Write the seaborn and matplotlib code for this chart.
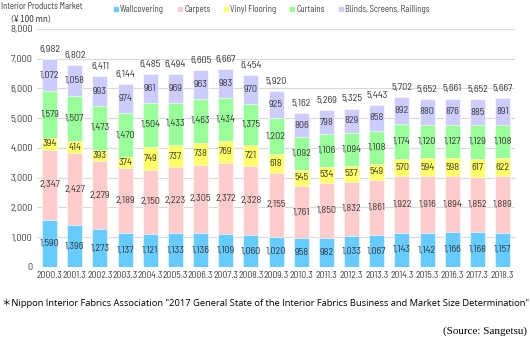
import matplotlib
matplotlib.use("Agg")
import matplotlib.pyplot as plt
from matplotlib.lines import Line2D
import seaborn as sns
import numpy as np
import pandas as pd

years = ["2000.3","2001.3","2002.3","2003.3","2004.3","2005.3","2006.3","2007.3","2008.3","2009.3",
         "2010.3","2011.3","2012.3","2013.3","2014.3","2015.3","2016.3","2017.3","2018.3"]
wallcovering = [1590,1396,1273,1137,1121,1133,1136,1109,1060,1020,958,982,1033,1067,1143,1142,1166,1168,1157]
carpets = [2347,2427,2279,2189,2150,2223,2305,2372,2328,2155,1761,1850,1832,1861,1922,1916,1894,1852,1889]
vinyl = [394,414,393,374,749,737,738,769,721,618,545,534,537,549,570,594,598,617,622]
curtains = [1579,1507,1473,1470,1504,1433,1463,1434,1375,1202,1092,1106,1094,1108,1174,1120,1127,1129,1108]
blinds = [1072,1058,993,974,961,969,963,983,970,925,806,798,829,858,892,880,876,885,891]
totals = [6982,6802,6411,6144,6485,6494,6605,6667,6454,5920,5162,5269,5325,5443,5702,5652,5661,5652,5667]

series_names = ["Wallcovering", "Carpets", "Vinyl Flooring", "Curtains", "Blinds, Screens, Raillings"]
series = [wallcovering, carpets, vinyl, curtains, blinds]
colors = ["#66CCFF", "#FFCCCC", "#FFFF66", "#99FF99", "#CCCCFF"]

sns.set_theme(style="white")
plt.rcParams['font.family'] = ['Barlow Semi Condensed', 'Liberation Sans', 'DejaVu Sans']

fig = plt.figure(figsize=(5.30, 3.43), dpi=100)
ax = fig.add_axes([0.0698, 0.2216, 0.9022, 0.694])

cum = np.cumsum(np.array(series), axis=0)
df = pd.DataFrame({"year": years})
for i in range(len(series) - 1, -1, -1):
    df["v"] = cum[i]
    sns.barplot(data=df, x="year", y="v", color=colors[i], saturation=1, width=0.6,
                ax=ax, edgecolor="white", linewidth=0.4, zorder=2)

ax.set_ylim(0, 8000)
ax.set_xlim(-0.5, len(years) - 0.5)
ax.set_yticks(range(0, 8001, 1000))
ax.set_yticklabels([f"{v:,}" for v in range(0, 8001, 1000)], fontsize=7.4, color="#404040")
ax.set_xticks(range(len(years)))
ax.set_xticklabels(years, fontsize=6.9, color="#404040")
ax.tick_params(axis="both", length=0, pad=3)
ax.set_xlabel("")
ax.set_ylabel("")
ax.yaxis.grid(True, color="#D9D9D9", linewidth=0.8, zorder=0)
ax.set_axisbelow(True)
for s in ax.spines.values():
    s.set_visible(False)

for j in range(len(years)):
    base = 0
    for i, vals in enumerate(series):
        v = vals[j]
        ax.text(j, base + v / 2, f"{v:,}", ha="center", va="center", fontsize=7.3, color="#333333", zorder=5)
        base += v
    ax.text(j, base + 170, f"{totals[j]:,}", ha="center", va="bottom",
            fontsize=7.3, color="#333333", zorder=5)

handles = [Line2D([], [], marker="s", linestyle="none", markersize=3, markerfacecolor=c,
                  markeredgecolor=c) for c in colors]
fig.legend(handles, series_names, loc="center", bbox_to_anchor=(0.511, 0.972), ncol=5, frameon=False,
           fontsize=6.3, handletextpad=0.1, columnspacing=1.4, labelcolor="#404040",
           handlelength=0.8)

fig.text(0.002, 0.993, "Interior Products Market", fontsize=6.2, ha="left", va="top", color="#333333")
fig.text(0.012, 0.958, "（¥ 100 mn）", fontsize=5.8, ha="left", va="top", color="#333333",
         family=["Noto Sans CJK JP", "DejaVu Sans"])
fig.text(0.003, 0.115, "＊Nippon Interior Fabrics Association \"2017 General State of the Interior Fabrics Business and Market Size Determination\"",
         fontsize=6.75, ha="left", va="center", color="black", family=["Open Sans", "Noto Sans CJK JP"])
fig.text(0.995, 0.033, "(Source: Sangetsu)", fontsize=8, ha="right", va="center", color="black",
         family=["Liberation Serif"])

fig.savefig("out.png", dpi=100)
